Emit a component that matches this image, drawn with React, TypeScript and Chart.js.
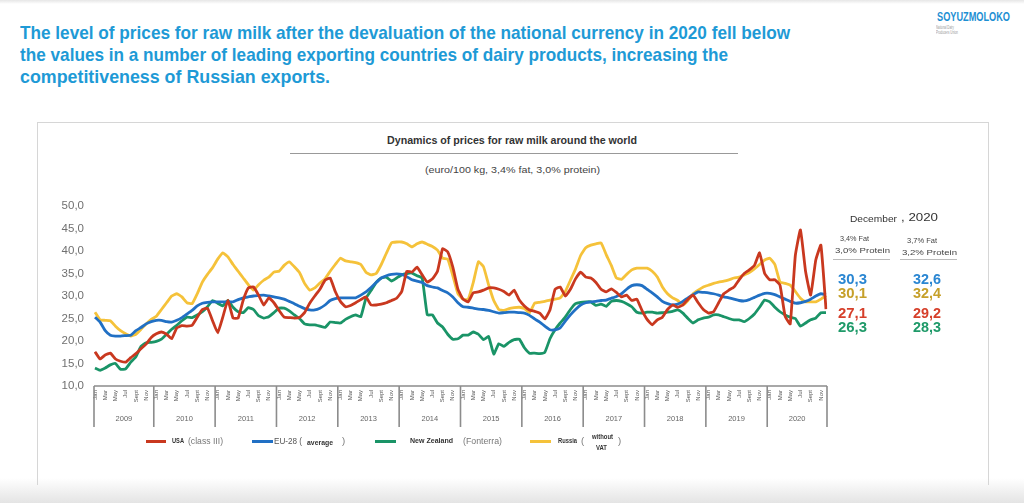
import React, { useEffect, useRef } from 'react';
import { Chart, registerables } from 'chart.js';

Chart.register(...registerables);

// ---------- data ----------
const years = ['2009', '2010', '2011', '2012', '2013', '2014', '2015', '2016', '2017', '2018', '2019', '2020'];
const months = ['Jan', 'Feb', 'Mar', 'Apr', 'May', 'Jun', 'Jul', 'Aug', 'Sept', 'Oct', 'Nov', 'Dec'];
const shownMonths = ['Jan', 'Mar', 'May', 'Jul', 'Sept', 'Nov'];
const yMin = 10;
const yMax = 50;
const yStep = 5;

const usa = [
  17.6, 16.0, 16.9, 17.3, 16.0, 15.5, 15.3, 16.3, 17.2, 18.3, 19.3, 20.8,
  21.6, 22.0, 21.5, 20.5, 22.9, 23.4, 23.3, 23.5, 25.3, 27.0, 27.3, 24.5,
  21.8, 25.3, 29.1, 25.1, 25.1, 29.1, 31.8, 32.0, 30.2, 28.0, 29.6, 28.5,
  26.8, 25.3, 25.2, 25.1, 25.2, 26.3, 28.4, 30.0, 31.5, 33.5, 34.0, 31.0,
  28.8, 27.6, 27.9, 28.5, 29.2, 29.8, 28.0, 28.0, 28.2, 28.5, 29.0, 29.5,
  31.0, 35.5, 35.3, 36.4, 34.7, 33.1, 33.8, 35.5, 40.5, 39.8, 36.4, 31.5,
  29.3, 28.7, 30.7, 30.9, 31.3, 31.8, 31.8, 31.5, 31.0, 30.2, 31.3, 29.1,
  27.8, 26.9, 26.6, 26.2, 24.9, 26.9, 31.5, 32.0, 30.0, 31.5, 33.8, 35.3,
  34.2, 34.0, 33.0, 31.5, 30.9, 31.6, 30.8, 29.8, 30.2, 29.0, 29.3, 26.8,
  24.8, 23.6, 24.7, 25.3, 27.0, 28.0, 27.5, 28.0, 29.3, 30.2, 28.5, 27.0,
  26.2, 26.5, 28.5, 30.5, 31.3, 32.0, 33.6, 35.0, 35.8, 36.8, 39.6, 35.0,
  33.6, 33.6, 32.4, 25.5, 23.8, 39.0, 44.7, 35.5, 30.2, 38.0, 41.3, 27.1,
];

const eu28 = [
  25.3, 24.2, 22.3, 21.3, 21.1, 21.1, 21.2, 21.3, 22.3, 23.0, 23.8, 24.3,
  24.6, 24.6, 24.3, 24.2, 24.6, 25.2, 26.0, 26.8, 27.8, 28.4, 28.6, 28.7,
  28.7, 28.7, 28.7, 28.7, 29.2, 29.6, 29.8, 30.0, 30.1, 30.2, 30.0, 29.8,
  29.6, 29.3, 28.8, 28.3, 27.7, 27.2, 26.9, 26.9, 27.3, 28.0, 29.0, 29.4,
  29.6, 29.6, 29.6, 29.6, 30.2, 30.9, 31.9, 33.0, 34.0, 34.5, 34.8, 34.9,
  34.8, 34.3, 33.6, 33.3, 33.0, 32.3, 32.0, 31.8, 31.2, 30.7, 29.8, 28.5,
  27.6, 27.5, 27.3, 27.1, 27.0, 26.8, 26.5, 26.2, 26.3, 26.4, 26.4, 26.3,
  26.2, 25.7, 24.9, 24.2, 23.3, 22.5, 22.5, 22.9, 24.4, 25.8, 27.0, 28.0,
  28.5, 28.7, 28.8, 29.0, 29.1, 29.5, 29.9, 30.5, 31.5, 32.3, 32.5, 32.3,
  31.5, 30.7, 29.8, 28.8, 28.3, 28.0, 28.2, 28.8, 29.6, 30.3, 30.9, 30.8,
  30.7, 30.5, 30.2, 29.8, 29.6, 29.3, 29.0, 28.9, 29.2, 29.7, 30.2, 30.6,
  30.6, 30.3, 29.8, 29.3, 28.8, 28.4, 28.5, 28.8, 29.3, 30.0, 30.5, 30.3,
];

const newZealand = [
  14.0, 13.5, 14.0, 14.7, 15.0, 13.7, 13.8, 15.3, 16.5, 18.8, 19.6, 19.7,
  19.9, 20.4, 21.5, 22.6, 23.5, 24.5, 25.3, 25.2, 25.8, 26.5, 27.6, 29.0,
  28.4, 27.8, 29.0, 27.5, 26.5, 26.3, 27.4, 27.0, 25.6, 25.1, 25.4, 26.3,
  27.3, 27.3, 26.7, 25.8, 25.0, 23.8, 23.6, 23.6, 23.3, 23.0, 24.2, 24.1,
  24.0, 24.8, 25.4, 25.8, 25.4, 29.5, 31.2, 33.0, 34.0, 34.2, 33.3, 34.0,
  34.7, 35.0, 35.1, 34.5, 34.0, 25.8, 25.8, 24.0, 23.1, 21.5, 20.4, 20.5,
  21.3, 21.3, 22.0, 21.5, 20.3, 21.0, 17.1, 19.4, 18.8, 19.7, 20.3, 20.4,
  18.5, 17.3, 17.3, 17.2, 17.5, 20.5, 22.5, 24.0, 25.3, 27.0, 28.3, 28.6,
  28.7, 28.7, 27.9, 28.2, 27.7, 28.8, 29.0, 28.8, 28.3, 27.6, 26.4, 26.2,
  26.4, 26.4, 26.2, 26.3, 26.4, 26.6, 26.9, 26.2, 25.0, 24.0, 24.7, 25.1,
  25.3, 25.8, 25.8, 25.4, 25.0, 24.7, 24.7, 24.3, 25.0, 26.0, 27.5, 29.1,
  28.7, 27.5, 26.5, 25.8, 25.3, 25.0, 23.3, 24.0, 24.7, 25.1, 26.3, 26.3,
];

const russia = [
  26.4, 24.7, 24.6, 24.5, 23.3, 22.3, 21.6, 21.1, 21.5, 22.6, 23.8, 24.8,
  25.5, 27.0, 28.5, 30.0, 30.5, 29.8, 28.5, 28.3, 30.5, 33.1, 34.8, 36.3,
  38.2, 39.6, 38.7, 37.0, 35.5, 34.0, 32.5, 31.3, 32.5, 33.5, 34.2, 35.3,
  35.5, 36.8, 37.6, 36.5, 35.2, 32.8, 31.3, 31.8, 32.9, 33.8, 35.5, 37.0,
  38.4, 37.8, 37.6, 37.4, 37.0, 35.3, 34.7, 35.0, 37.0, 39.5, 41.8, 42.0,
  42.0, 41.6, 40.9, 41.6, 42.0, 41.5, 41.0, 40.2, 38.4, 38.2, 34.5, 30.5,
  29.3, 29.2, 33.0, 37.6, 36.5, 32.5, 29.0, 27.0, 26.8, 27.2, 27.4, 27.5,
  27.2, 26.3, 28.4, 28.6, 28.8, 29.1, 29.3, 29.6, 31.0, 33.5, 36.0, 39.0,
  40.7, 41.3, 41.6, 41.8, 39.2, 36.8, 34.0, 33.7, 34.8, 35.8, 36.2, 36.2,
  36.2, 35.5, 34.2, 32.0, 30.5, 29.6, 29.0, 28.0, 29.0, 30.5, 31.3, 32.0,
  32.4, 32.8, 33.1, 33.3, 33.6, 34.0, 34.2, 34.7, 35.2, 36.0, 37.0, 38.0,
  38.4, 37.0, 33.1, 32.8, 32.4, 31.0, 29.5, 28.7, 28.7, 28.7, 29.3, 30.1,
];

const seriesNames = ['USA', 'EU-28', 'New Zealand', 'Russia'];
const seriesColors = ['#c9381f', '#2170c4', '#1a9467', '#f5c23a'];
const tableColors = ['#2a86d2', '#c6a02a', '#d63f2a', '#1f9a69'];
const decStandard = ['30,3', '30,1', '27,1', '26,3'];
const decAdjusted = ['32,6', '32,4', '29,2', '28,3'];

const headline = [
  'The level of prices for raw milk after the devaluation of the national currency in 2020 fell below',
  'the values in a number of leading exporting countries of dairy products, increasing the',
  'competitiveness of Russian exports.',
];

// ---------- helpers ----------
const labels = years.flatMap((y) => months.map((m) => `${m} ${y}`));
const fmt = (v: number) => v.toFixed(1).replace('.', ',');
const SANS = '"Liberation Sans", Arial, sans-serif';

let measureCtx: CanvasRenderingContext2D | null = null;
const measure = (text: string, font: string) => {
  if (!measureCtx) measureCtx = document.createElement('canvas').getContext('2d');
  if (!measureCtx) return 0;
  measureCtx.font = font;
  return measureCtx.measureText(text).width;
};

const yearBoxes = {
  id: 'yearBoxes',
  afterDraw(chart: any) {
    const { ctx, chartArea, scales } = chart;
    const x = scales.x;
    const top = chartArea.bottom;
    const bottom = top + 41;
    const bounds: number[] = [];
    for (let k = 0; k <= years.length; k++) {
      if (k === 0) bounds.push(chartArea.left - 1);
      else if (k === years.length) bounds.push(chartArea.right + 1);
      else bounds.push((x.getPixelForValue(k * 12 - 1) + x.getPixelForValue(k * 12)) / 2);
    }
    ctx.save();
    ctx.strokeStyle = '#8c8c8c';
    ctx.lineWidth = 1.6;
    ctx.beginPath();
    ctx.moveTo(bounds[0], top);
    ctx.lineTo(bounds[bounds.length - 1], top);
    bounds.forEach((b) => {
      ctx.moveTo(b, top);
      ctx.lineTo(b, bottom);
    });
    ctx.stroke();
    ctx.fillStyle = '#666';
    ctx.font = `7.5px ${SANS}`;
    ctx.textAlign = 'center';
    ctx.textBaseline = 'middle';
    years.forEach((y, k) => {
      ctx.fillText(y, (bounds[k] + bounds[k + 1]) / 2, top + 33);
    });
    ctx.restore();
  },
};

const T = ({ x, y, size, color = '#333', weight = 400, family = SANS, w, children, style }: any) => {
  let transform: string | undefined;
  if (w && typeof children === 'string') {
    const m = measure(children, `${weight} ${size}px ${family}`);
    if (m > 0) transform = `scaleX(${(w / m).toFixed(4)})`;
  }
  return (
    <div
      style={{
        position: 'absolute',
        left: x,
        top: y - size * 0.6,
        fontSize: size,
        lineHeight: `${size * 1.2}px`,
        color,
        fontWeight: weight,
        fontFamily: family,
        whiteSpace: 'nowrap',
        transform,
        transformOrigin: 'left center',
        ...style,
      }}
    >
      {children}
    </div>
  );
};

const LegendLine = ({ x, y, w, color }: any) => (
  <div style={{ position: 'absolute', left: x, top: y - 1.5, width: w, height: 3, background: color }} />
);

export default function App() {
  const canvasRef = useRef<HTMLCanvasElement | null>(null);

  useEffect(() => {
    const canvas = canvasRef.current;
    if (!canvas) return;
    const chart = new Chart(canvas, {
      type: 'line',
      data: {
        labels,
        datasets: [usa, eu28, newZealand, russia].map((d, i) => ({
          label: seriesNames[i],
          data: d,
          borderColor: seriesColors[i],
          backgroundColor: seriesColors[i],
          borderWidth: 2.8,
          pointRadius: 0,
          tension: 0.12,
          fill: false,
        })),
      },
      options: {
        responsive: false,
        animation: false,
        devicePixelRatio: 1,
        layout: { padding: { top: 206, right: 198, left: 0, bottom: 0 } },
        plugins: {
          legend: { display: false },
          tooltip: { enabled: false },
          title: { display: false },
        },
        scales: {
          x: {
            type: 'category',
            offset: false,
            grid: { display: false, drawTicks: false },
            border: { display: false },
            ticks: {
              autoSkip: false,
              maxRotation: 90,
              minRotation: 90,
              padding: 4,
              color: '#555',
              font: { size: 6, family: SANS },
              callback: (_v: any, index: number) => {
                const m = months[index % 12];
                return shownMonths.includes(m) ? m : '';
              },
            },
            afterFit: (s: any) => {
              s.height = 117;
            },
          },
          y: {
            min: yMin,
            max: yMax,
            grid: { display: false, drawTicks: false },
            border: { display: false },
            ticks: {
              stepSize: yStep,
              padding: 11,
              color: '#707070',
              font: { size: 11.5, family: SANS },
              callback: (v: any) => fmt(Number(v)),
            },
            afterFit: (s: any) => {
              s.width = 95;
            },
          },
        },
      },
      plugins: [yearBoxes],
    } as any);
    return () => chart.destroy();
  }, []);

  const headW = [770, 708, 310];

  return (
    <div style={{ position: 'absolute', left: 0, top: 0, width: 1024, height: 503, background: '#fff', overflow: 'hidden' }}>
      <div style={{ position: 'absolute', left: 0, top: 0, width: 1024, height: 4, background: 'linear-gradient(#e6e6e6, #fff)' }} />
      <div style={{ position: 'absolute', left: 0, top: 478, width: 1024, height: 25, background: 'linear-gradient(#fff, #e4e4e4)' }} />
      {/* chart panel frame */}
      <div style={{ position: 'absolute', left: 37, top: 122, width: 950, height: 362, border: '1px solid #d6d6d6', borderBottom: 'none' }} />

      {headline.map((line, i) => (
        <T key={i} x={20} y={33 + i * 22} size={18.5} color="#1e9ad6" weight={700} w={headW[i]}>
          {line}
        </T>
      ))}

      {/* logo */}
      <T x={937} y={17} size={12.5} color="#1d8fd3" weight={700} w={73}>SOYUZMOLOKO</T>
      <T x={936} y={28} size={4.5} color="#999" w={18}>National Dairy</T>
      <T x={936} y={33} size={4.5} color="#999" w={22}>Producers Union</T>

      {/* chart title */}
      <T x={387} y={141} size={10} color="#333" weight={700} w={250}>
        Dynamics of prices for raw milk around the world
      </T>
      <div style={{ position: 'absolute', left: 290, top: 153, width: 448, height: 1, background: '#999' }} />
      <T x={425} y={170} size={9.5} color="#444" w={175}>
        (euro/100 kg, 3,4% fat, 3,0% protein)
      </T>

      <canvas ref={canvasRef} width={1024} height={503} style={{ position: 'absolute', left: 0, top: 0 }} />

      {/* right table */}
      <T x={850} y={219} size={9} color="#333" w={47}>December</T>
      <T x={901} y={218} size={11} color="#333" w={37}>, 2020</T>
      <T x={840} y={238} size={7.5} color="#444" w={29}>3,4% Fat</T>
      <T x={835} y={250} size={7.5} color="#444" w={55}>3,0% Protein</T>
      <T x={907} y={240} size={7.5} color="#444" w={30}>3,7% Fat</T>
      <T x={902} y={252} size={7.5} color="#444" w={55}>3,2% Protein</T>
      <div style={{ position: 'absolute', left: 833, top: 259, width: 57, height: 1, background: '#bbb' }} />
      <div style={{ position: 'absolute', left: 900, top: 259, width: 57, height: 1, background: '#bbb' }} />
      {decStandard.map((v, i) => (
        <T key={'s' + i} x={838} y={[279, 293, 313, 327][i]} size={14} color={tableColors[i]} weight={700} w={29}>{v}</T>
      ))}
      {decAdjusted.map((v, i) => (
        <T key={'a' + i} x={913} y={[279, 293, 313, 327][i]} size={14} color={tableColors[i]} weight={700} w={28}>{v}</T>
      ))}

      {/* legend */}
      <LegendLine x={146} y={441} w={20} color={seriesColors[0]} />
      <T x={172} y={441} size={8} color="#333" weight={700} w={12}>USA</T>
      <T x={188} y={441} size={9.5} color="#777" w={35}>(class III)</T>
      <LegendLine x={252} y={441} w={21} color={seriesColors[1]} />
      <T x={274} y={441} size={9.5} color="#555" w={28}>EU-28 (</T>
      <T x={307} y={442} size={7.5} color="#333" weight={700} w={26}>average</T>
      <T x={342} y={441} size={9.5} color="#777">)</T>
      <LegendLine x={375} y={441} w={21} color={seriesColors[2]} />
      <T x={410} y={441} size={8} color="#333" weight={700} w={43}>New Zealand</T>
      <T x={463} y={441} size={9.5} color="#777" w={39}>(Fonterra)</T>
      <LegendLine x={530} y={441} w={21} color={seriesColors[3]} />
      <T x={558} y={441} size={8} color="#333" weight={700} w={19}>Russia</T>
      <T x={581} y={441} size={9.5} color="#777">(</T>
      <T x={592} y={437} size={7} color="#333" weight={700} w={21}>without</T>
      <T x={596} y={448} size={7} color="#333" weight={700} w={11}>VAT</T>
      <T x={618} y={441} size={9.5} color="#777">)</T>
    </div>
  );
}
